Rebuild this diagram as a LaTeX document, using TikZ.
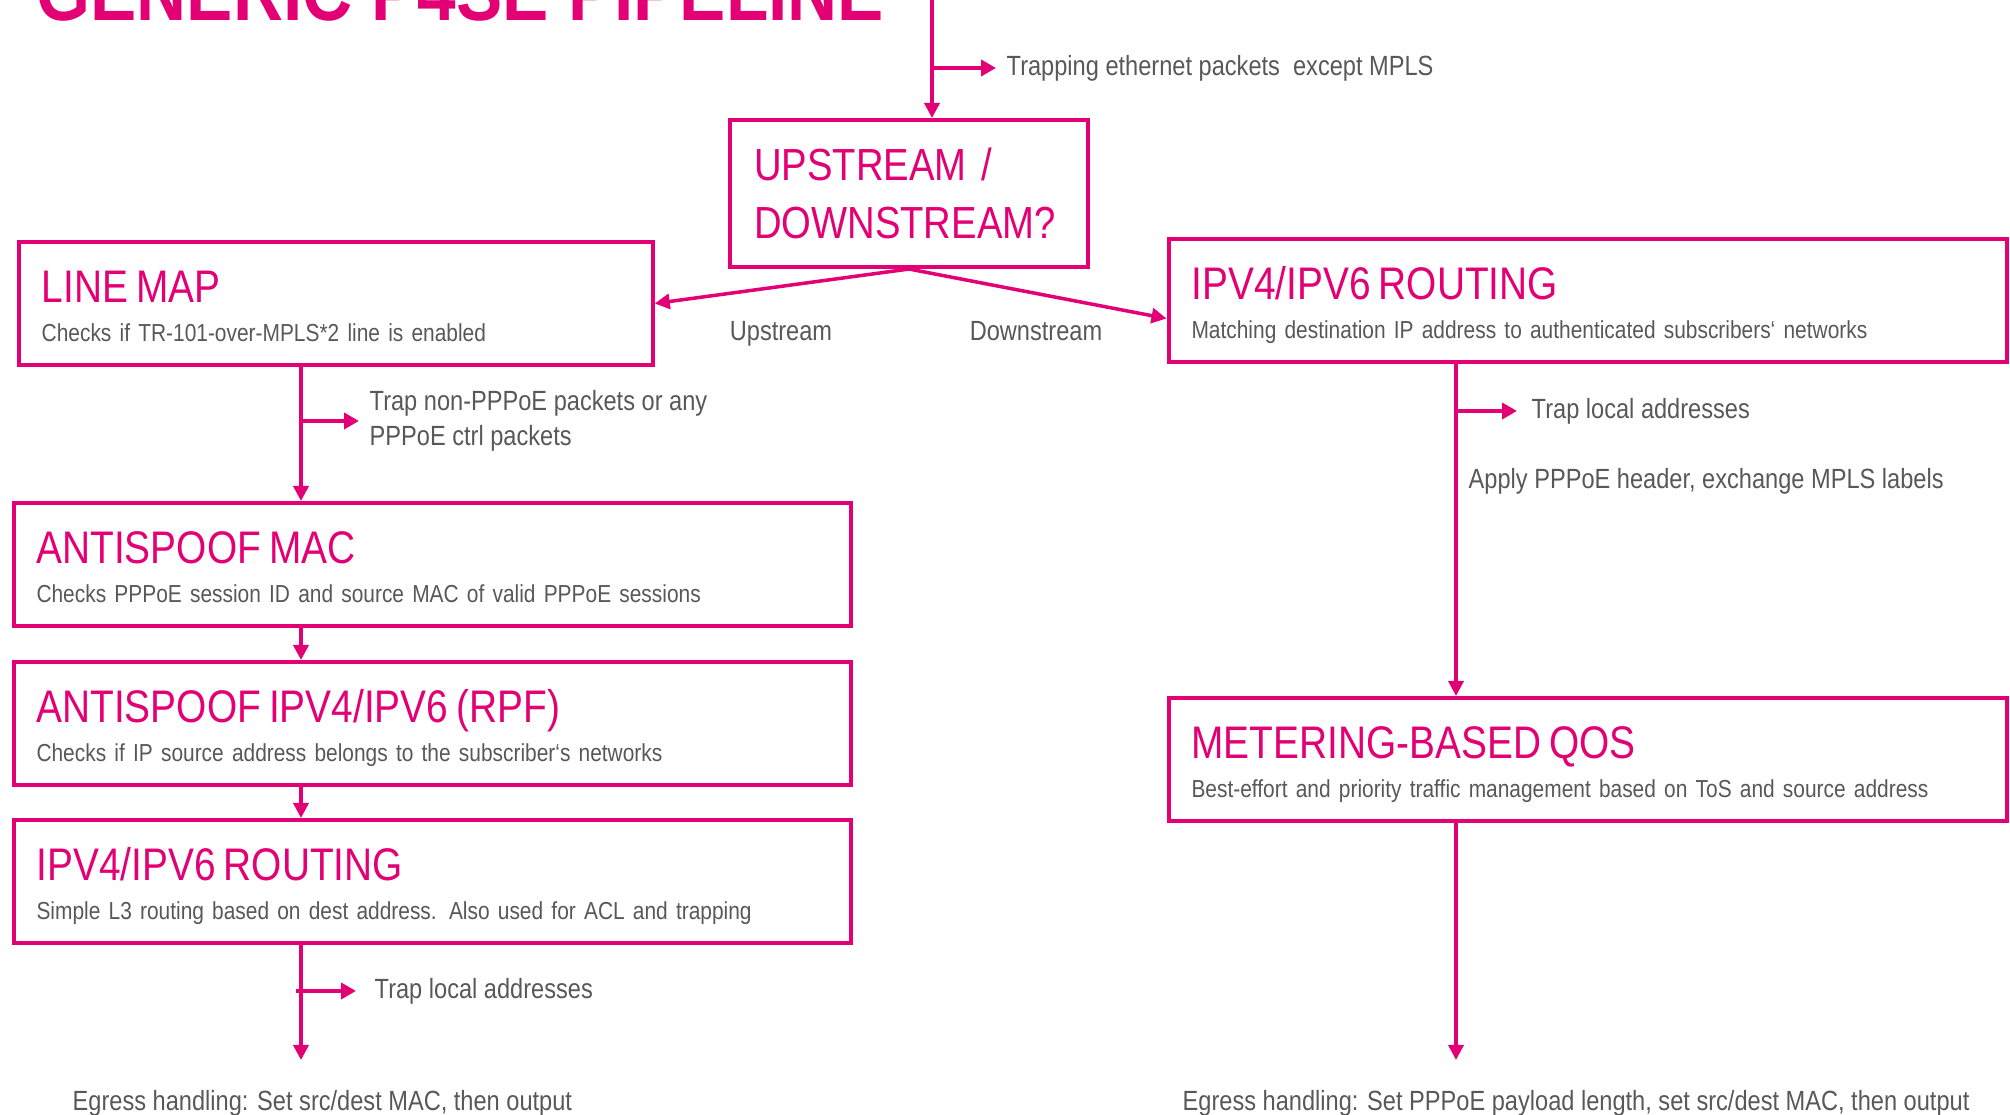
\documentclass[tikz,border=0pt]{standalone}
\usepackage{fontspec}
\setmainfont[FakeStretch=0.85]{Liberation Sans}
\definecolor{tmagenta}{RGB}{226,0,116}
\definecolor{tgrey}{RGB}{88,88,88}
\usetikzlibrary{arrows.meta,positioning}
\newcommand{\stagetext}[2]{\raisebox{0pt}[12pt][0pt]{\fontsize{13}{14}\selectfont\color{tmagenta}#1}\\\raisebox{0pt}[5pt][1.5pt]{\color{tgrey}#2}}
\tikzset{
  stage/.style={draw=tmagenta, line width=1.15pt, anchor=north west, inner xsep=2.3mm, inner ysep=0pt,
                align=left, minimum height=12.3mm, font=\fontsize{7}{11.1}\selectfont},
  choice/.style={draw=tmagenta, line width=1.15pt, anchor=north west, inner xsep=2.4mm, inner ysep=0pt,
                align=left, minimum height=14.7mm, text=tmagenta, font=\fontsize{12.8}{16.7}\selectfont},
  note/.style={text=tgrey, inner sep=1mm, align=left, font=\fontsize{7.9}{9.9}\selectfont},
  headline/.style={text=tmagenta, inner sep=0pt, font=\fontsize{23.2}{23.2}\selectfont\bfseries},
  flow/.style={-{Triangle[length=1.5mm,width=1.5mm]}, tmagenta, line width=1pt},
  branch/.style={-{Triangle[length=1.5mm,width=1.6mm]}, tmagenta, line width=1.2pt},
}
\begin{document}
\begin{tikzpicture}
    \useasboundingbox (0,0) rectangle (20.1,11.15);
    \begin{scope}
      \clip (0,0) rectangle (20.1,11.15);
      \node[headline, anchor=base west] (title) at (0.36,10.94) {GENERIC P4SE PIPELINE};
    \end{scope}
    \coordinate (in) at (9.32,11.15);
    \coordinate (trunkl) at (3.01,0);
    \coordinate (trunkr) at (14.56,0);
    \coordinate (egl) at (3.01,0.55);
    \coordinate (egr) at (14.56,0.55);
    \node[choice, text width=3.1cm] (ud) at (7.28,9.97) {UPSTREAM /\\DOWNSTREAM?};
    \node[stage, text width=5.88cm] (linemap) at (0.167,8.75) {\stagetext{LINE MAP}{Checks if TR-101-over-MPLS*2 line is enabled}};
    \node[stage, text width=7.915cm] (asmac) at (0.115,6.14) {\stagetext{ANTISPOOF MAC}{Checks PPPoE session ID and source MAC of valid PPPoE sessions}};
    \node[stage, text width=7.915cm] (asip) at (0.115,4.55) {\stagetext{ANTISPOOF IPV4/IPV6 (RPF)}{Checks if IP source address belongs to the subscriber‘s networks}};
    \node[stage, text width=7.915cm] (routeup) at (0.115,2.97) {\stagetext{IPV4/IPV6 ROUTING}{Simple L3 routing based on dest address. Also used for ACL and trapping}};
    \node[stage, text width=7.925cm] (routedn) at (11.665,8.78) {\stagetext{IPV4/IPV6 ROUTING}{Matching destination IP address to authenticated subscribers‘ networks}};
    \node[stage, text width=7.925cm] (qos) at (11.665,4.19) {\stagetext{METERING-BASED QOS}{Best-effort and priority traffic management based on ToS and source address}};
    \node[note, anchor=west] (trapeth) at (9.96,10.47) {Trapping ethernet packets~ except MPLS};
    \node[note] (up) at (7.81,7.81) {Upstream};
    \node[note] (down) at (10.36,7.84) {Downstream};
    \node[note, anchor=west] (trapppp) at (3.59,6.94) {Trap non-PPPoE packets or any\\PPPoE ctrl packets};
    \node[note, anchor=west] (traplocl) at (3.64,1.24) {Trap local addresses};
    \node[note, anchor=west] (egressup) at (0.62,0.12) {Egress handling: Set src/dest MAC, then output};
    \node[note, anchor=west] (traplocr) at (15.21,7.04) {Trap local addresses};
    \node[note, anchor=west] (apply) at (14.58,6.34) {Apply PPPoE header, exchange MPLS labels};
    \node[note, anchor=west] (egressdn) at (11.72,0.12) {Egress handling: Set PPPoE payload length, set src/dest MAC, then output};
    \draw[flow] (in) -- (in |- ud.north);
    \draw[branch] (in |- trapeth.west) -- (trapeth.west);
    \draw[flow] (ud.south) -- (linemap.east);
    \draw[flow] (ud.south) -- ([yshift=-1.8mm]routedn.west);
    \draw[flow] (trunkl |- linemap.south) -- (trunkl |- asmac.north);
    \draw[branch] (trunkl |- trapppp.west) -- (trapppp.west);
    \draw[flow] (trunkl |- asmac.south) -- (trunkl |- asip.north);
    \draw[flow] (trunkl |- asip.south) -- (trunkl |- routeup.north);
    \draw[flow] (trunkl |- routeup.south) -- (egl);
    \draw[branch] ([xshift=-0.5mm]trunkl |- traplocl.west) -- ([xshift=-0.8mm]traplocl.west);
    \draw[flow] (trunkr |- routedn.south) -- (trunkr |- qos.north);
    \draw[branch] (trunkr |- traplocr.west) -- ([xshift=-0.4mm]traplocr.west);
    \draw[flow] (trunkr |- qos.south) -- (egr);
\end{tikzpicture}
\end{document}
